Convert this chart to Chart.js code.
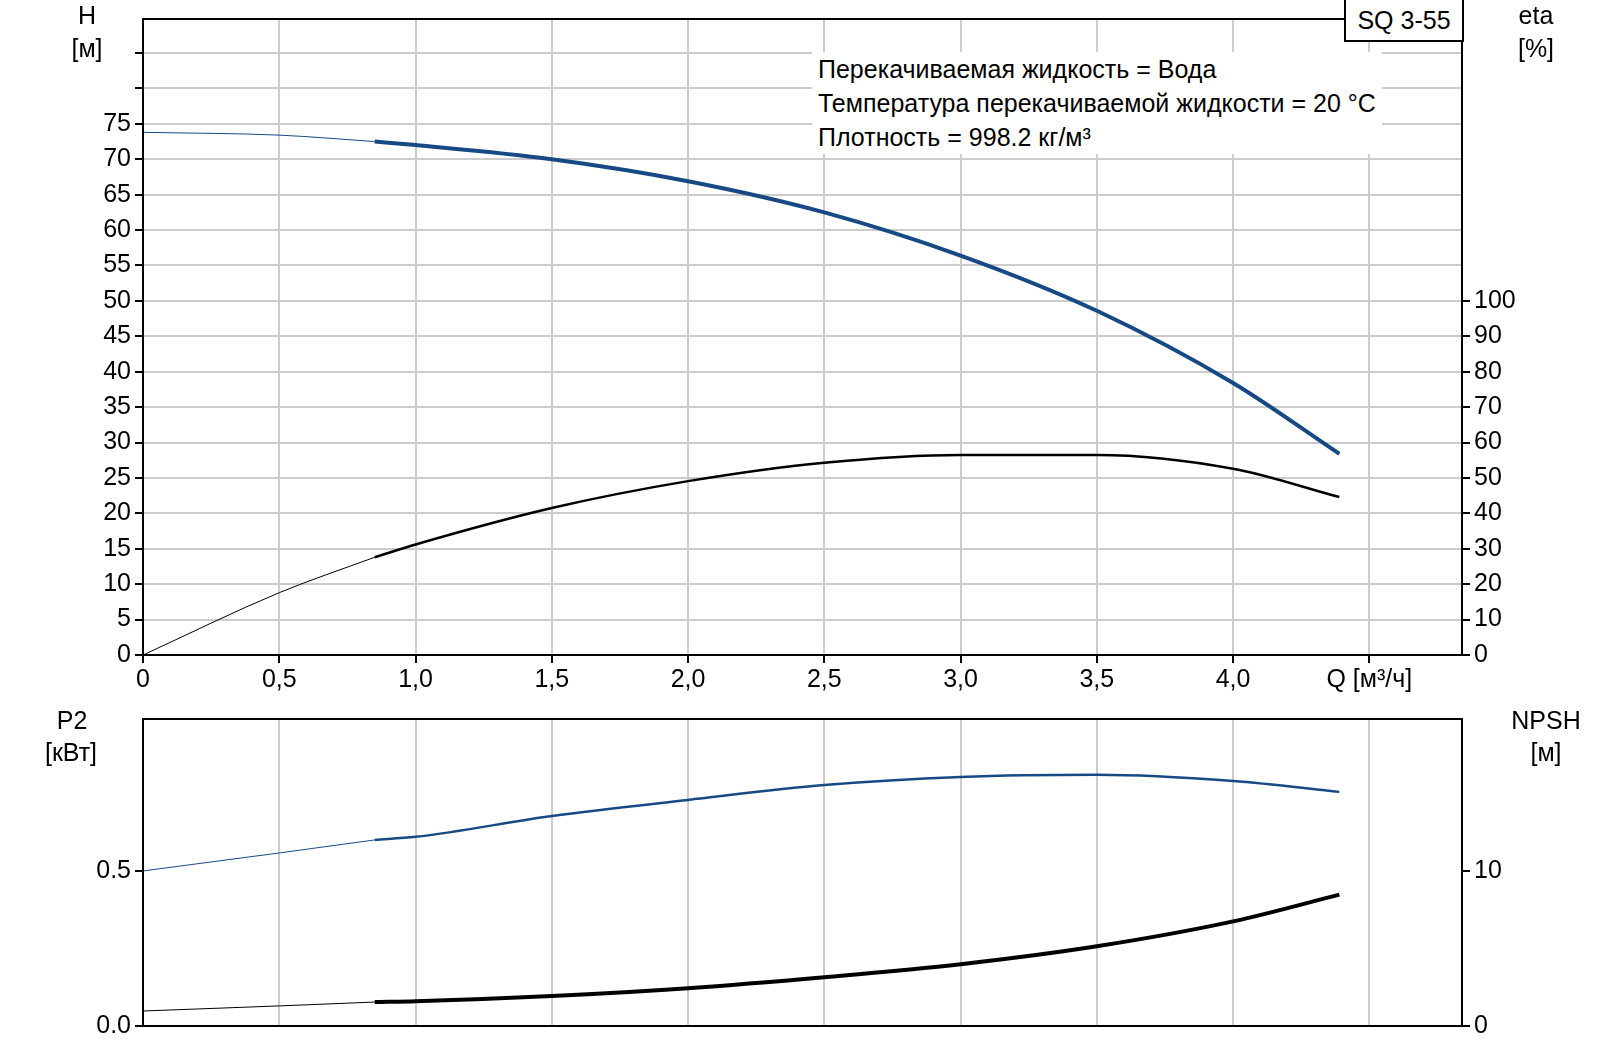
<!DOCTYPE html>
<html><head><meta charset="utf-8">
<script src="https://cdn.jsdelivr.net/npm/chart.js@4"></script>
<style>
body{margin:0;background:#fff;width:1617px;height:1045px;position:relative;overflow:hidden;font-family:"Liberation Sans",Arial,sans-serif;}
.c{position:absolute;left:0;width:1617px;}
canvas{display:block;}
.t{position:absolute;font-size:25px;color:#000;transform:translate(-50%,-50%);white-space:nowrap;}
#info{position:absolute;left:812px;top:52px;font-size:25px;line-height:34px;background:#fff;padding:0 6px;}
#sq{position:absolute;left:1344px;top:0;width:116px;height:40px;border:2px solid #000;border-top:none;background:#fff;font-size:25px;text-align:center;line-height:40px;}
</style></head><body>
<div class="c" style="top:0;height:700px"><canvas id="top" width="1617" height="700"></canvas></div>
<div class="c" style="top:700px;height:345px"><canvas id="bot" width="1617" height="345"></canvas></div>
<div id="info">Перекачиваемая жидкость = Вода<br>Температура перекачиваемой жидкости = 20 °C<br>Плотность = 998.2 кг/м³</div>
<div id="sq">SQ 3-55</div>
<div class="t" style="left:87px;top:15px">H</div>
<div class="t" style="left:87px;top:48px">[м]</div>
<div class="t" style="left:1536px;top:15px">eta</div>
<div class="t" style="left:1536px;top:48px">[%]</div>
<div class="t" style="left:72px;top:720px">P2</div>
<div class="t" style="left:71px;top:752px">[кВт]</div>
<div class="t" style="left:1546px;top:720px">NPSH</div>
<div class="t" style="left:1546px;top:752px">[м]</div>
<script>
const qThinH=[0,0.5,0.85];
const hThin=[73.8,73.4,72.5];
const qThick=[0.85,1.0,1.5,2.0,2.5,3.0,3.5,4.0,4.39];
const hThick=[72.5,72.0,70.0,66.9,62.5,56.4,48.6,38.4,28.4];
const etaThin=[0,17.6,27.6];
const etaThick=[27.6,31.2,41.5,49.1,54.3,56.5,56.5,52.6,44.6];
const p2Thin=[0.5,0.558,0.6];
const p2Thick=[0.6,0.61,0.677,0.729,0.777,0.803,0.81,0.79,0.755];
const npshThin=[0.97,1.3,1.55];
const npshThick=[1.55,1.6,1.94,2.45,3.16,4.0,5.16,6.77,8.5];
const qTickLabels={0:'0',0.5:'0,5',1:'1,0',1.5:'1,5',2:'2,0',2.5:'2,5',3:'3,0',3.5:'3,5',4:'4,0',4.5:'Q [м³/ч]'};

const BLUE='#174a85', GRID='#cccccc', F={family:'"Liberation Sans",Arial,sans-serif',size:25};
Chart.defaults.color='#000';
const pts=(xs,ys)=>xs.map((x,i)=>({x,y:ys[i]}));
const ds=(d,c,w,ax)=>({data:d,borderColor:c,borderWidth:w,pointRadius:0,yAxisID:ax,cubicInterpolationMode:'monotone',fill:false});
const frame={id:'frame',afterDraw(ch){const a=ch.chartArea,c=ch.ctx;c.save();c.strokeStyle='#000';c.lineWidth=2;c.strokeRect(a.left,a.top,a.right-a.left,a.bottom-a.top);c.restore();}};
const fitW=w=>(s=>{s.width=w;});
const fitH=h=>(s=>{s.height=h;});
const xAxis=(labels,h)=>({type:'linear',min:0,max:4.84,afterFit:fitH(h),
  afterBuildTicks:s=>{s.ticks=[0,0.5,1,1.5,2,2.5,3,3.5,4,4.5].map(v=>({value:v}));},
  ticks:{display:labels,font:F,padding:2,maxRotation:0,autoSkip:false,callback:v=>qTickLabels[v]},
  grid:{color:GRID,lineWidth:2,tickColor:'#000',tickLength:labels?8:0,drawTicks:labels},border:{color:'#000',width:2}});

new Chart(document.getElementById('top'),{type:'line',plugins:[frame],
 data:{datasets:[ds(pts(qThinH,hThin),BLUE,1,'y'),ds(pts(qThick,hThick),BLUE,4,'y'),
  ds(pts(qThinH,etaThin),'#000',1,'y2'),ds(pts(qThick,etaThick),'#000',2.5,'y2')]},
 options:{responsive:false,animation:false,layout:{padding:{top:1,left:0,right:0,bottom:0}},
  plugins:{legend:{display:false},tooltip:{enabled:false}},
  scales:{x:xAxis(true,45),
   y:{position:'left',min:0,max:89.8,afterFit:fitW(143),
    afterBuildTicks:s=>{s.ticks=[0,5,10,15,20,25,30,35,40,45,50,55,60,65,70,75,80,85].map(v=>({value:v}));},
    ticks:{font:F,padding:4,callback:v=>v<=75?String(v):''},
    grid:{color:GRID,lineWidth:2,tickColor:'#000',tickLength:8},border:{color:'#000',width:2}},
   y2:{position:'right',min:0,max:179.6,afterFit:fitW(155),
    afterBuildTicks:s=>{s.ticks=[0,10,20,30,40,50,60,70,80,90,100].map(v=>({value:v}));},
    ticks:{font:F,padding:4},
    grid:{drawOnChartArea:false,color:'#000',lineWidth:2,tickLength:8},border:{color:'#000',width:2}}}}});

const q2=[0,0.5,0.85];
new Chart(document.getElementById('bot'),{type:'line',plugins:[frame],
 data:{datasets:[ds(pts(q2,p2Thin),BLUE,1,'y'),ds(pts(qThick,p2Thick),BLUE,2.5,'y'),
  ds(pts(q2,npshThin),'#000',1,'y2'),ds(pts(qThick,npshThick),'#000',4,'y2')]},
 options:{responsive:false,animation:false,layout:{padding:{top:7,left:0,right:0,bottom:0}},
  plugins:{legend:{display:false},tooltip:{enabled:false}},
  scales:{x:xAxis(false,19),
   y:{position:'left',min:0,max:0.99,afterFit:fitW(143),
    afterBuildTicks:s=>{s.ticks=[0,0.5].map(v=>({value:v}));},
    ticks:{font:F,padding:4,callback:v=>v.toFixed(1)},
    grid:{drawOnChartArea:false,color:'#000',lineWidth:2,tickLength:8},border:{color:'#000',width:2}},
   y2:{position:'right',min:0,max:19.87,afterFit:fitW(155),
    afterBuildTicks:s=>{s.ticks=[0,10].map(v=>({value:v}));},
    ticks:{font:F,padding:4},
    grid:{drawOnChartArea:false,color:'#000',lineWidth:2,tickLength:8},border:{color:'#000',width:2}}}}});
</script></body></html>
